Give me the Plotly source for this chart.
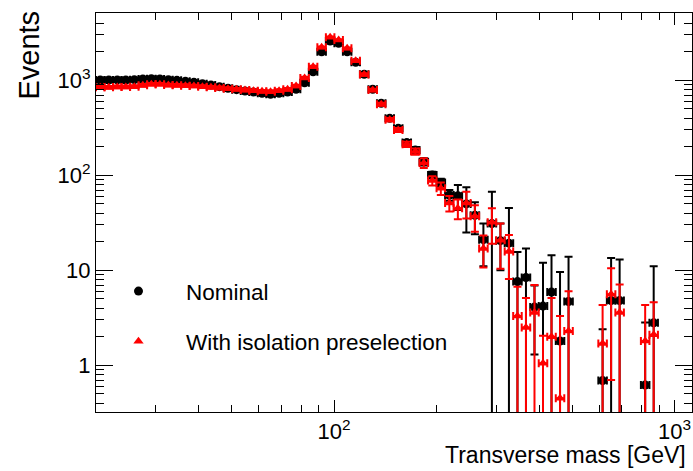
import numpy as np
import plotly.graph_objects as go

# Binning: 70 logarithmic bins from 20 GeV, 40 bins per decade
mt_low = 20.0
n_bins = 70
bins_per_decade = 40
bin_edges = mt_low * 10 ** (np.arange(n_bins + 1) / bins_per_decade)
bin_centers = np.sqrt(bin_edges[:-1] * bin_edges[1:])

# Nominal selection: events per bin and statistical uncertainty
nominal = [1007, 1007, 1010, 1008, 1015, 1032, 1040, 1032, 1015, 999,
           975, 951, 920, 892, 857, 824, 797, 772, 754, 730,
           713, 730, 754, 805, 940, 1231, 2000, 2590, 2450, 2000,
           1546, 1157, 804, 573, 398, 312, 221, 185, 139, 101,
           84, 62, 61, 50, 38, 21, 31, 20.5, 19.3, 7.6,
           8.4, 4.1, 4.2, 5.9, 1.8, 4.7, None, None, None, 0.69,
           4.8, 4.8, None, None, 0.62, 2.8, None, None, None, None]
nominal_err = [30, 30, 30, 30, 30, 31, 31, 31, 30, 30,
               29, 29, 28, 27, 26, 25, 24, 24, 23, 23,
               22, 23, 23, 25, 28, 34, 45, 52, 50, 45,
               40, 35, 28, 22, 18, 16, 14, 13, 12, 8,
               8, 8, 18, 25, 14, 10, 36, 10.5, 26, 8,
               8.6, 2.8, 7.8, 8.5, 7.8, 9.2, None, None, None, 1.7,
               8.7, 8.2, None, None, 2.2, 8.2, None, None, None, None]

# With isolation preselection
isolated = [844, 844, 851, 851, 857, 885, 910, 910, 892, 885,
            878, 871, 857, 844, 830, 817, 805, 791, 778, 766,
            759, 778, 805, 871, 1060, 1390, 2225, 2835, 2655, 2170,
            1608, 1150, 790, 560, 385, 300, 212, 178, 135, 88,
            73, 51, 45, 51, 37, 17, 32, 20.7, 15.8, 3.3,
            2.5, 3.6, 1.05, 2.0, 0.45, 2.3, None, None, None, 1.7,
            5.6, 3.6, None, None, 1.8, 2.1, None, None, None, None]
isolated_err = [28, 28, 28, 28, 28, 29, 29, 29, 29, 29,
                29, 28, 28, 28, 28, 27, 27, 27, 27, 26,
                26, 27, 27, 28, 31, 36, 47, 54, 52, 47,
                40, 35, 27, 22, 17, 15, 13, 13, 16, 10,
                11, 9.5, 10.5, 16, 11.5, 6.3, 13, 10.3, 7.7, 3.4,
                2.6, 3.4, 1.0, 3.1, 2.85, 3.7, None, None, None, 2.6,
                4.9, 3.5, None, None, 2.5, 2.5, None, None, None, None]

x_err_plus = bin_edges[1:] - bin_centers
x_err_minus = bin_centers - bin_edges[:-1]

FONT = "Liberation Sans, Arial, sans-serif"


def histogram_trace(values, errors, name, color, symbol, size, group):
    return go.Scatter(
        x=bin_centers,
        y=values,
        mode="markers",
        name=name,
        legendgroup=group,
        marker=dict(color=color, symbol=symbol, size=size, line=dict(width=0)),
        error_x=dict(type="data", symmetric=False, array=x_err_plus,
                     arrayminus=x_err_minus, color=color, thickness=2, width=4),
        error_y=dict(type="data", array=errors, color=color, thickness=2, width=4),
        cliponaxis=True,
    )


fig = go.Figure()
fig.add_trace(histogram_trace(nominal, nominal_err, "Nominal", "black",
                              "circle", 9, "a"))
fig.add_trace(histogram_trace(isolated, isolated_err, "With isolation preselection",
                              "#ff0000", "triangle-up", 9, "b"))

x_range = [np.log10(bin_edges[0]), np.log10(bin_edges[-1])]
y_range = [-0.4916, 3.7084]

fig.update_layout(
    width=693,
    height=471,
    margin=dict(l=96, r=1, t=13, b=59),
    paper_bgcolor="white",
    plot_bgcolor="white",
    font=dict(family=FONT, size=22, color="black"),
    showlegend=True,
    legend=dict(
        x=-0.0084, y=0.356, xanchor="left", yanchor="top",
        bgcolor="rgba(0,0,0,0)", borderwidth=0,
        font=dict(family=FONT, size=22.5, color="black"),
        traceorder="grouped", tracegroupgap=18,
        itemwidth=85,
    ),
    xaxis=dict(
        type="log", range=x_range,
        showgrid=False, zeroline=False,
        showline=True, linecolor="black", linewidth=1, mirror="ticks",
        ticks="inside", ticklen=12, tickcolor="black", tickwidth=1,
        tickvals=[100, 1000],
        ticktext=["10<sup>2</sup>", "10<sup>3</sup>"],
        tickfont=dict(family=FONT, size=22),
        minor=dict(ticks="inside", ticklen=7, tickcolor="black",
                   tickwidth=1, dtick="D1", showgrid=False),
    ),
    yaxis=dict(
        type="log", range=y_range,
        showgrid=False, zeroline=False,
        showline=True, linecolor="black", linewidth=1, mirror="ticks",
        ticks="inside", ticklen=17, tickcolor="black", tickwidth=1,
        tickvals=[1, 10, 100, 1000],
        ticktext=["1", "10", "10<sup>2</sup>", "10<sup>3</sup>"],
        tickfont=dict(family=FONT, size=22),
        minor=dict(ticks="inside", ticklen=8, tickcolor="black",
                   tickwidth=1, dtick="D1", showgrid=False),
    ),
    annotations=[
        dict(text="Events", xref="paper", yref="paper",
             x=-0.114, y=1.01, xanchor="center", yanchor="top",
             textangle=-90, showarrow=False,
             font=dict(family=FONT, size=29, color="black")),
        dict(text="Transverse mass [GeV]", xref="paper", yref="paper",
             x=0.993, y=-0.108, xanchor="right", yanchor="middle",
             showarrow=False,
             font=dict(family=FONT, size=23, color="black")),
    ],
)

fig.write_html("out.html")
